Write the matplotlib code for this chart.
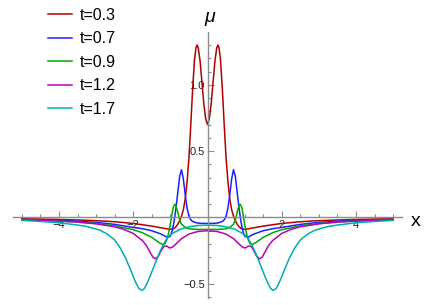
import matplotlib
matplotlib.use("Agg")
import matplotlib.pyplot as plt
from matplotlib.ticker import FixedLocator, NullFormatter
import numpy as np

plt.rcParams['font.family'] = ['Liberation Sans', 'DejaVu Sans']

# values (symmetric curves, mu vs x)
x_red = [-5, -4.5, -4, -3.5, -3, -2.5, -2, -1.75, -1.5, -1.25, -1, -0.9, -0.85, -0.8, -0.75,
         -0.7, -0.65, -0.6, -0.55, -0.5, -0.45, -0.4, -0.35, -0.31, -0.28, -0.25, -0.2, -0.15,
         -0.1, -0.05, 0, 0.05, 0.1, 0.15, 0.2, 0.25, 0.28, 0.31, 0.35, 0.4, 0.45, 0.5, 0.55,
         0.6, 0.65, 0.7, 0.75, 0.8, 0.85, 0.9, 1, 1.25, 1.5, 1.75, 2, 2.5, 3, 3.5, 4, 4.5, 5]
y_red = [-0.010, -0.012, -0.015, -0.019, -0.024, -0.032, -0.045, -0.055, -0.065, -0.078, -0.09,
         -0.082, -0.07, -0.05, -0.025, 0.01, 0.06, 0.14, 0.27, 0.45, 0.70, 0.97, 1.19, 1.28,
         1.30, 1.28, 1.18, 1.02, 0.86, 0.745, 0.70, 0.745, 0.86, 1.02, 1.18, 1.28, 1.30, 1.28,
         1.19, 0.97, 0.70, 0.45, 0.27, 0.14, 0.06, 0.01, -0.025, -0.05, -0.07, -0.082, -0.09,
         -0.078, -0.065, -0.055, -0.045, -0.032, -0.024, -0.019, -0.015, -0.012, -0.010]

x_blue = [-5, -4.5, -4, -3.5, -3, -2.5, -2, -1.75, -1.5, -1.25, -1.15, -1.07, -1, -0.95, -0.9,
          -0.85, -0.8, -0.75, -0.7, -0.65, -0.6, -0.55, -0.5, -0.45, -0.4, -0.3, -0.2, 0,
          0.2, 0.3, 0.4, 0.45, 0.5, 0.55, 0.6, 0.65, 0.7, 0.75, 0.8, 0.85, 0.9, 0.95, 1, 1.07,
          1.15, 1.25, 1.5, 1.75, 2, 2.5, 3, 3.5, 4, 4.5, 5]
y_blue = [-0.015, -0.018, -0.022, -0.028, -0.037, -0.052, -0.075, -0.085, -0.10, -0.125, -0.14,
          -0.152, -0.14, -0.10, -0.03, 0.07, 0.19, 0.31, 0.36, 0.29, 0.17, 0.07, 0.01, -0.018,
          -0.030, -0.040, -0.044, -0.045, -0.044, -0.040, -0.030, -0.018, 0.01, 0.07, 0.17,
          0.29, 0.36, 0.31, 0.19, 0.07, -0.03, -0.10, -0.14, -0.152, -0.14, -0.125, -0.10,
          -0.085, -0.075, -0.052, -0.037, -0.028, -0.022, -0.018, -0.015]

x_green = [-5, -4.5, -4, -3.5, -3, -2.5, -2, -1.75, -1.5, -1.4, -1.3, -1.2, -1.15, -1.1, -1.05,
           -1, -0.96, -0.92, -0.88, -0.85, -0.8, -0.75, -0.7, -0.6, -0.5, -0.3, 0, 0.3, 0.5,
           0.6, 0.7, 0.75, 0.8, 0.85, 0.88, 0.92, 0.96, 1, 1.05, 1.1, 1.15, 1.2, 1.3, 1.4, 1.5,
           1.75, 2, 2.5, 3, 3.5, 4, 4.5, 5]
y_green = [-0.017, -0.021, -0.026, -0.034, -0.045, -0.063, -0.092, -0.115, -0.15, -0.17, -0.19,
           -0.205, -0.20, -0.17, -0.12, -0.05, 0.02, 0.08, 0.10, 0.09, 0.04, -0.02, -0.05,
           -0.075, -0.085, -0.09, -0.09, -0.09, -0.085, -0.075, -0.05, -0.02, 0.04, 0.09, 0.10,
           0.08, 0.02, -0.05, -0.12, -0.17, -0.20, -0.205, -0.19, -0.17, -0.15, -0.115, -0.092,
           -0.063, -0.045, -0.034, -0.026, -0.021, -0.017]

x_mag = [-5, -4.5, -4, -3.5, -3, -2.5, -2.25, -2, -1.75, -1.65, -1.55, -1.47, -1.4, -1.32, -1.25,
         -1.18, -1.1, -1.02, -0.95, -0.85, -0.7, -0.5, -0.25, 0, 0.25, 0.5, 0.7, 0.85, 0.95,
         1.02, 1.1, 1.18, 1.25, 1.32, 1.4, 1.47, 1.55, 1.65, 1.75, 2, 2.25, 2.5, 3, 3.5, 4,
         4.5, 5]
y_mag = [-0.018, -0.022, -0.027, -0.035, -0.048, -0.07, -0.09, -0.12, -0.175, -0.21, -0.26,
         -0.30, -0.312, -0.29, -0.25, -0.22, -0.215, -0.23, -0.225, -0.20, -0.16, -0.125,
         -0.105, -0.10, -0.105, -0.125, -0.16, -0.20, -0.225, -0.23, -0.215, -0.22, -0.25,
         -0.29, -0.312, -0.30, -0.26, -0.21, -0.175, -0.12, -0.09, -0.07, -0.048, -0.035,
         -0.027, -0.022, -0.018]

x_cyan = [-5, -4.5, -4, -3.5, -3.25, -2.9, -2.7, -2.5, -2.35, -2.2, -2.05, -1.95, -1.85, -1.77,
          -1.7, -1.6, -1.5, -1.4, -1.3, -1.2, -1.1, -1, -0.75, -0.5, -0.25, 0, 0.25, 0.5, 0.75,
          1, 1.1, 1.2, 1.3, 1.4, 1.5, 1.6, 1.7, 1.77, 1.85, 1.95, 2.05, 2.2, 2.35, 2.5, 2.7,
          2.9, 3.25, 3.5, 4, 4.5, 5]
y_cyan = [-0.022, -0.03, -0.04, -0.057, -0.068, -0.095, -0.125, -0.17, -0.23, -0.31, -0.41,
          -0.48, -0.535, -0.55, -0.535, -0.48, -0.41, -0.34, -0.27, -0.21, -0.16, -0.13, -0.09,
          -0.07, -0.06, -0.058, -0.06, -0.07, -0.09, -0.13, -0.16, -0.21, -0.27, -0.34, -0.41,
          -0.48, -0.535, -0.55, -0.535, -0.48, -0.41, -0.31, -0.23, -0.17, -0.125, -0.095,
          -0.068, -0.057, -0.04, -0.03, -0.022]

series = [("t=0.3", x_red, y_red, "#b00000"),
          ("t=0.7", x_blue, y_blue, "#1f1fff"),
          ("t=0.9", x_green, y_green, "#00a800"),
          ("t=1.2", x_mag, y_mag, "#b800b8"),
          ("t=1.7", x_cyan, y_cyan, "#00adad")]

fig = plt.figure(figsize=(4.36, 3.05), dpi=100)
ax = fig.add_axes([13 / 436, 1 - 298 / 305, 389 / 436, (298 - 32.3) / 305])

for lab, xs, ys, col in series:
    ax.plot(xs, ys, color=col, lw=1.1, label=lab, solid_joinstyle='round')

ax.set_xlim(-5.24, 5.24)
ax.set_ylim(-0.607, 1.396)

for s in ['top', 'right']:
    ax.spines[s].set_visible(False)
for s in ['left', 'bottom']:
    ax.spines[s].set_position(('data', 0))
    ax.spines[s].set_color('#8c8c8c')
    ax.spines[s].set_linewidth(1.0)

ax.xaxis.set_major_locator(FixedLocator([-4, -2, 2, 4]))
ax.xaxis.set_minor_locator(FixedLocator([v for v in np.arange(-5, 5.01, 0.5) if v % 2 != 0]))
ax.yaxis.set_major_locator(FixedLocator([-0.5, 0.5, 1.0]))
ax.yaxis.set_minor_locator(FixedLocator([v for v in np.round(np.arange(-0.6, 1.31, 0.1), 1)
                                         if v not in (-0.5, 0.0, 0.5, 1.0)]))
ax.set_xticklabels(['\u22124', '\u22122', '2', '4'])
ax.set_yticklabels(['\u22120.5', '0.5', '1.0'])
ax.yaxis.set_minor_formatter(NullFormatter())
ax.tick_params(which='both', direction='in', color='#8c8c8c', width=0.8, labelsize=8,
               labelcolor='#222222', pad=2)
ax.tick_params(which='major', length=4)
ax.tick_params(which='minor', length=2.5)

ax.text(5.62, -0.064, 'x', fontsize=14, ha='center', va='baseline')
ax.text(0.05, 1.51, '\u03bc', fontsize=14, style='italic', ha='center', va='center')

ax.legend(loc='upper left', bbox_to_anchor=(48 / 436, 1 - 8 / 305), bbox_transform=fig.transFigure,
          frameon=False, fontsize=11.5, handlelength=1.5, handletextpad=0.5, labelspacing=0.53,
          borderaxespad=0, borderpad=0)

fig.savefig('out.png', dpi=100)
